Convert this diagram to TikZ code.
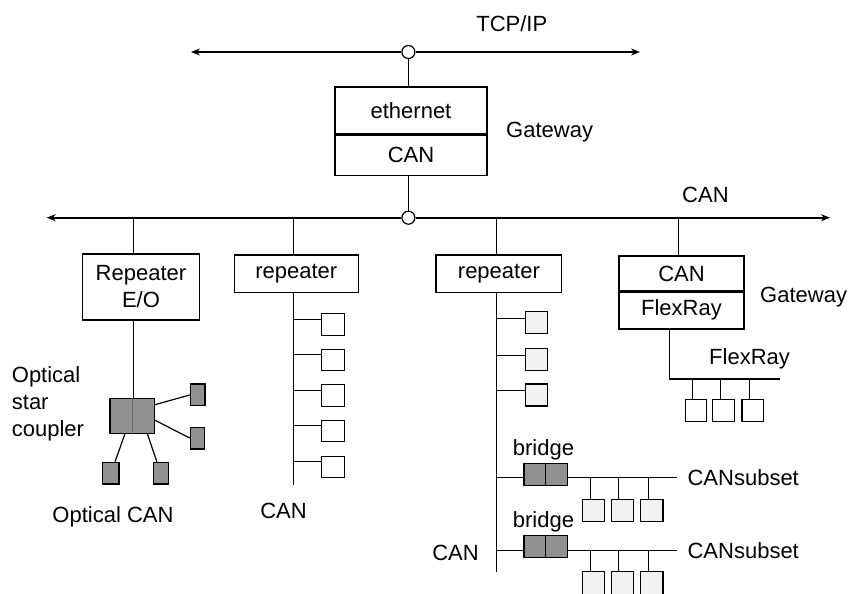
\documentclass[tikz,border=0pt]{standalone}
\usepackage{fontspec}
\setmainfont{Liberation Sans}
\usetikzlibrary{arrows.meta,calc}
\definecolor{darkfill}{RGB}{145,145,145}
\definecolor{lightfill}{RGB}{242,242,242}
\begin{document}
\begin{tikzpicture}[x=1pt,y=-1pt,
  every node/.style={font=\fontsize{22}{27}\selectfont, inner sep=0pt},
  cell/.style={draw, line width=1.3pt, fill=white, minimum width=#1},
  unit/.style={draw, line width=1.1pt, fill=white, minimum width=22.5pt, minimum height=22.5pt},
  lunit/.style={unit, fill=lightfill},
  dunit/.style={draw, line width=1.3pt, fill=darkfill},
  bus/.style={line width=1.8pt, -{Stealth[length=9pt,width=7pt]}},
  wire/.style={line width=1.2pt},
  tap/.style={draw, circle, line width=1.2pt, fill=white, minimum size=13pt},
  lbl/.style={anchor=base west}
]
\useasboundingbox (0,0) rectangle (849,594);

% ---------- TCP/IP bus and top gateway ----------
\node[tap] (t1) at (408.4,52) {};
\coordinate (tcpL) at (191,52);
\coordinate (tcpR) at (640,52);
\draw[bus] (t1.west) -- (tcpL);
\draw[bus] (t1.east) -- (tcpR);
\node (tcp) at (511.8,24) {TCP/IP};

\node[cell=152pt, minimum height=47pt] (eth) at (411,110.5) {ethernet};
\node[cell=152pt, minimum height=41.7pt] (gcan) at (411,154.9) {CAN};
\draw[line width=2pt] (eth.south west) -- (eth.south east);
\node[lbl] (gw1) at (506,137) {Gateway};
\draw[wire] (t1.south) -- (t1.south |- eth.north);

% ---------- CAN bus ----------
\node[tap] (t2) at (408.4,217.7) {};
\coordinate (canL) at (46.7,217.7);
\coordinate (canR) at (830,217.7);
\draw[bus] (t2.west) -- (canL);
\draw[bus] (t2.east) -- (canR);
\draw[wire] (t2.north |- gcan.south) -- (t2.north);
\node[lbl] (canlbl) at (682,202) {CAN};

\coordinate (b1) at (133.3,217.7);
\coordinate (b2) at (293.3,217.7);
\coordinate (b3) at (496.7,217.7);
\coordinate (b4) at (678.3,217.7);

% ---------- Optical branch ----------
\node[cell=116.6pt, minimum height=66pt, align=center] (rep1) at (141,287) {Repeater\\E/O};
\draw[wire] (b1) -- (b1 |- rep1.north);
\node[dunit, minimum width=44.3pt, minimum height=35pt] (star) at (132.2,415.8) {};
\draw[line width=0.5pt, black!60] (star.north) -- (star.south);
\draw[wire] (b1 |- rep1.south) -- (b1 |- star.north);
\node[dunit, minimum width=14.3pt, minimum height=21.7pt] (o1) at (197.9,394.9) {};
\node[dunit, minimum width=13.6pt, minimum height=21.7pt] (o2) at (197.5,438.2) {};
\node[dunit, minimum width=16.3pt, minimum height=21.7pt] (o3) at (110.9,473.2) {};
\node[dunit, minimum width=14.6pt, minimum height=21.7pt] (o4) at (161,473.2) {};
\draw[wire] (star.26) -- (o1.west);
\draw[wire] (star.-11) -- (o2.west);
\draw[wire] (star.248) -- (o3.70);
\draw[wire] (star.-50) -- (o4.110);
\node[anchor=west, align=left] (osc) at (11.7,403.5) {Optical\\star\\coupler};
\node (ocan) at (113,516.7) {Optical CAN};

% ---------- Repeater 2 branch ----------
\node[cell=124pt, minimum height=37.7pt] (rep2) at (296.3,273.9) {repeater};
\draw[wire] (b2) -- (b2 |- rep2.north);
\coordinate (r2end) at (293.3,485);
\draw[wire] (b2 |- rep2.south) -- (r2end);
\foreach \i/\y in {1/324.2, 2/359.9, 3/395.2, 4/430.9, 5/466.9}{
  \node[unit, minimum width=23.3pt, minimum height=21.7pt] (n2\i) at (332.7,\y) {};
  \draw[line width=1pt] (n2\i.157) -- (n2\i.157 -| b2);
}
\node (can2) at (283.5,511) {CAN};

% ---------- Repeater 3 branch ----------
\node[cell=125.7pt, minimum height=37.7pt] (rep3) at (498.9,273.9) {repeater};
\draw[wire] (b3) -- (b3 |- rep3.north);
\coordinate (r3end) at (496.7,571.7);
\draw[wire] (b3 |- rep3.south) -- (r3end);
\foreach \i/\y in {1/322.7, 2/359.3, 3/395}{
  \node[lunit, minimum width=22.3pt, minimum height=22pt] (n3\i) at (536.2,\y) {};
  \draw[line width=1pt] (n3\i.160) -- (n3\i.160 -| b3);
}
% bridges
\foreach \k/\yb/\base in {1/474.2/455, 2/546.7/527}{
  \node[dunit, minimum width=43.7pt, minimum height=22pt] (br\k) at (545.9,\yb) {};
  \draw[line width=1pt] (br\k.north) -- (br\k.south);
  \node[anchor=base] (brl\k) at (543.5,\base) {bridge};
  \draw[wire] (br\k.189 -| b3) -- (br\k.189);
  \coordinate (se\k) at ($(br\k.-9)+(109,0)$);
  \draw[wire] (br\k.-9) -- (se\k);
  \node[anchor=west] (cs\k) at ($(se\k)+(10,0)$) {CANsubset};
}
\foreach \i/\x in {1/593.6, 2/622.4, 3/651.7}{
  \node[lunit, minimum width=22.5pt, minimum height=22.7pt] (s1\i) at (\x,510.4) {};
  \draw[line width=1pt] (s1\i.106 |- se1) -- (s1\i.106);
  \node[lunit, minimum width=22.5pt, minimum height=22.7pt] (s2\i) at (\x,583) {};
  \draw[line width=1pt] (s2\i.106 |- se2) -- (s2\i.106);
}
\node (can3) at (455.5,553) {CAN};

% ---------- Gateway CAN / FlexRay ----------
\node[cell=125pt, minimum height=35pt] (gw2c) at (681.5,273.5) {CAN};
\node[cell=125pt, minimum height=38pt] (gw2f) at (681.5,310) {FlexRay};
\draw[line width=2pt] (gw2c.south west) -- (gw2c.south east);
\draw[wire] (b4) -- (b4 |- gw2c.north);
\node[lbl] (gw2) at (760,302) {Gateway};
\coordinate (fc) at (669.3,379);
\coordinate (fend) at (780,379);
\draw[wire] (fc |- gw2f.south) -- (fc) -- (fend);
\node[lbl] (frl) at (709,364) {FlexRay};
\foreach \i/\x in {1/695.9, 2/723.4, 3/752.8}{
  \node[unit, minimum width=21.7pt, minimum height=22.7pt] (f\i) at (\x,410.4) {};
  \draw[line width=1pt] (f\i.105 |- fc) -- (f\i.105);
}
\end{tikzpicture}
\end{document}
